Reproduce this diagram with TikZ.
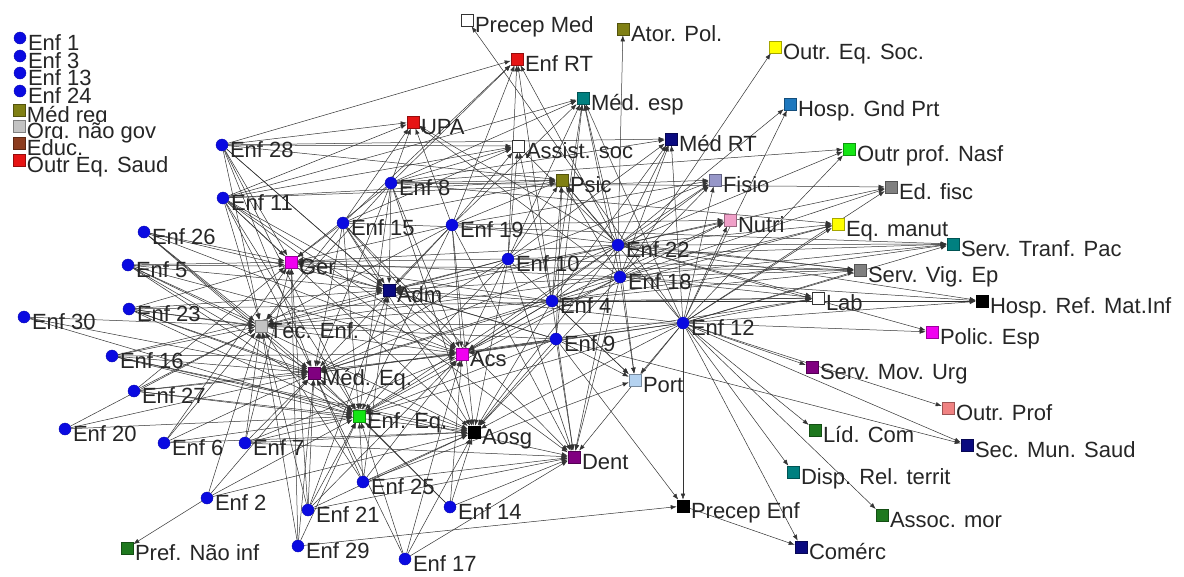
\documentclass[tikz,border=0pt]{standalone}
\usepackage{fontspec}
\setmainfont{Liberation Sans}
\usetikzlibrary{arrows.meta,backgrounds}
\definecolor{enfblue}{RGB}{10,10,225}
\definecolor{olivec}{RGB}{128,128,20}
\definecolor{silverc}{RGB}{195,195,195}
\definecolor{brownc}{RGB}{140,60,30}
\definecolor{redc}{RGB}{230,20,20}
\definecolor{yellowc}{RGB}{255,255,0}
\definecolor{tealc}{RGB}{0,128,128}
\definecolor{steelc}{RGB}{30,120,190}
\definecolor{navyc}{RGB}{10,10,128}
\definecolor{limec}{RGB}{20,230,20}
\definecolor{grayc}{RGB}{128,128,128}
\definecolor{lavc}{RGB}{150,150,200}
\definecolor{pinkc}{RGB}{240,160,200}
\definecolor{magc}{RGB}{240,0,240}
\definecolor{purpc}{RGB}{128,0,128}
\definecolor{lbluec}{RGB}{180,210,240}
\definecolor{salmonc}{RGB}{240,130,130}
\definecolor{dgreenc}{RGB}{30,120,30}
\definecolor{blackc}{RGB}{0,0,0}
\tikzset{
 cn/.style={circle,fill=enfblue,draw=enfblue!80!black,line width=0.4pt,minimum size=12pt,inner sep=0pt},
 sq/.style={rectangle,fill=#1,draw=#1!65!black,line width=0.6pt,minimum size=12pt,inner sep=0pt},
 sqw/.style={rectangle,fill=white,draw=black!80,line width=0.8pt,minimum size=12pt,inner sep=0pt},
 lbl/.style={anchor=base west,inner sep=0pt,outer sep=0pt,text=black!85,text height=11pt,text depth=1pt,font=\fontsize{22}{22}\selectfont},
 leglbl/.style={lbl,fill=white,text height=16.5pt,text depth=0pt},
 edge/.style={draw=black!80,line width=0.5pt,-{Latex[length=6pt,width=4.5pt]}},
}
\newcommand\mklbl[2]{\node[lbl] (#1-l) at ([shift={(8,12)}]#1.center) {#2};}
\newcommand\mkleg[2]{\node[leglbl] (#1-l) at ([shift={(8,12)}]#1.center) {#2};}
\begin{document}
\begin{tikzpicture}[x=1pt,y=-1pt]
\useasboundingbox (0,0) rectangle (1184,576);
% legend (isolated nodes)
\node[cn] (e1) at (20,38) {}; \mkleg{e1}{Enf 1}
\node[cn] (e3) at (20,56) {}; \mkleg{e3}{Enf 3}
\node[cn] (e13) at (20,73) {}; \mkleg{e13}{Enf 13}
\node[cn] (e24) at (20,91) {}; \mkleg{e24}{Enf 24}
\node[sq=olivec] (medreg) at (19,110) {}; \mkleg{medreg}{Méd reg}
\node[sq=silverc] (org) at (19,126) {}; \mkleg{org}{Org. não gov}
\node[sq=brownc] (educ) at (19,143) {}; \mkleg{educ}{Educ.}
\node[sq=redc] (outreq) at (19,160) {}; \mkleg{outreq}{Outr Eq. Saud}
% square nodes
\node[sqw] (pmed) at (467,20) {}; \mklbl{pmed}{Precep Med}
\node[sq=olivec] (ator) at (623,29) {}; \mklbl{ator}{Ator. Pol.}
\node[sq=redc] (enfrt) at (517,59) {}; \mklbl{enfrt}{Enf RT}
\node[sq=yellowc] (oeqsoc) at (775,47) {}; \mklbl{oeqsoc}{Outr. Eq. Soc.}
\node[sq=tealc] (medesp) at (583,98) {}; \mklbl{medesp}{Méd. esp}
\node[sq=steelc] (hgnd) at (790,104) {}; \mklbl{hgnd}{Hosp. Gnd Prt}
\node[sq=redc] (upa) at (413,122) {}; \mklbl{upa}{UPA}
\node[sqw] (assist) at (518,146) {}; \mklbl{assist}{Assist. soc}
\node[sq=navyc] (medrt) at (671,139) {}; \mklbl{medrt}{Méd RT}
\node[sq=limec] (nasf) at (849,149) {}; \mklbl{nasf}{Outr prof. Nasf}
\node[sq=olivec] (psic) at (562,180) {}; \mklbl{psic}{Psic}
\node[sq=lavc] (fisio) at (715,180) {}; \mklbl{fisio}{Fisio}
\node[sq=grayc] (edfisc) at (891,187) {}; \mklbl{edfisc}{Ed. fisc}
\node[sq=pinkc] (nutri) at (730,220) {}; \mklbl{nutri}{Nutri}
\node[sq=yellowc] (eqman) at (838,224) {}; \mklbl{eqman}{Eq. manut}
\node[sq=tealc] (stp) at (953,244) {}; \mklbl{stp}{Serv. Tranf. Pac}
\node[sq=magc] (ger) at (291,262) {}; \mklbl{ger}{Ger}
\node[sq=grayc] (svig) at (860,270) {}; \mklbl{svig}{Serv. Vig. Ep}
\node[sq=navyc] (adm) at (389,290) {}; \mklbl{adm}{Adm}
\node[sqw] (lab) at (818,298) {}; \mklbl{lab}{Lab}
\node[sq=blackc] (hrmi) at (982,301) {}; \mklbl{hrmi}{Hosp. Ref. Mat.Inf}
\node[sq=silverc] (tec) at (261,326) {}; \mklbl{tec}{Téc. Enf.}
\node[sq=magc] (polic) at (932,332) {}; \mklbl{polic}{Polic. Esp}
\node[sq=magc] (acs) at (462,354) {}; \mklbl{acs}{Acs}
\node[sq=lbluec] (port) at (635,380) {}; \mklbl{port}{Port}
\node[sq=purpc] (medeq) at (314,373) {}; \mklbl{medeq}{Méd. Eq.}
\node[sq=purpc] (smu) at (812,367) {}; \mklbl{smu}{Serv. Mov. Urg}
\node[sq=salmonc] (outrp) at (948,408) {}; \mklbl{outrp}{Outr. Prof}
\node[sq=limec] (enfeq) at (359,416) {}; \mklbl{enfeq}{Enf. Eq.}
\node[sq=blackc] (aosg) at (474,432) {}; \mklbl{aosg}{Aosg}
\node[sq=dgreenc] (lid) at (815,430) {}; \mklbl{lid}{Líd. Com}
\node[sq=navyc] (smsaud) at (967,445) {}; \mklbl{smsaud}{Sec. Mun. Saud}
\node[sq=purpc] (dent) at (574,457) {}; \mklbl{dent}{Dent}
\node[sq=tealc] (disp) at (793,472) {}; \mklbl{disp}{Disp. Rel. territ}
\node[sq=blackc] (penf) at (683,506) {}; \mklbl{penf}{Precep Enf}
\node[sq=dgreenc] (assoc) at (882,515) {}; \mklbl{assoc}{Assoc. mor}
\node[sq=dgreenc] (pref) at (127,548) {}; \mklbl{pref}{Pref. Não inf}
\node[sq=navyc] (comerc) at (801,547) {}; \mklbl{comerc}{Comérc}
% circle nodes
\node[cn] (e28) at (222,145) {}; \mklbl{e28}{Enf 28}
\node[cn] (e8) at (391,183) {}; \mklbl{e8}{Enf 8}
\node[cn] (e11) at (223,198) {}; \mklbl{e11}{Enf 11}
\node[cn] (e15) at (343,223) {}; \mklbl{e15}{Enf 15}
\node[cn] (e19) at (452,225) {}; \mklbl{e19}{Enf 19}
\node[cn] (e26) at (144,232) {}; \mklbl{e26}{Enf 26}
\node[cn] (e22) at (618,245) {}; \mklbl{e22}{Enf 22}
\node[cn] (e10) at (508,259) {}; \mklbl{e10}{Enf 10}
\node[cn] (e5) at (128,265) {}; \mklbl{e5}{Enf 5}
\node[cn] (e18) at (620,277) {}; \mklbl{e18}{Enf 18}
\node[cn] (e4) at (552,301) {}; \mklbl{e4}{Enf 4}
\node[cn] (e23) at (129,309) {}; \mklbl{e23}{Enf 23}
\node[cn] (e30) at (24,317) {}; \mklbl{e30}{Enf 30}
\node[cn] (e12) at (683,323) {}; \mklbl{e12}{Enf 12}
\node[cn] (e9) at (556,339) {}; \mklbl{e9}{Enf 9}
\node[cn] (e16) at (112,356) {}; \mklbl{e16}{Enf 16}
\node[cn] (e27) at (134,391) {}; \mklbl{e27}{Enf 27}
\node[cn] (e20) at (65,429) {}; \mklbl{e20}{Enf 20}
\node[cn] (e6) at (164,443) {}; \mklbl{e6}{Enf 6}
\node[cn] (e7) at (245,443) {}; \mklbl{e7}{Enf 7}
\node[cn] (e25) at (363,482) {}; \mklbl{e25}{Enf 25}
\node[cn] (e2) at (207,498) {}; \mklbl{e2}{Enf 2}
\node[cn] (e14) at (450,507) {}; \mklbl{e14}{Enf 14}
\node[cn] (e21) at (308,510) {}; \mklbl{e21}{Enf 21}
\node[cn] (e29) at (298,546) {}; \mklbl{e29}{Enf 29}
\node[cn] (e17) at (405,559) {}; \mklbl{e17}{Enf 17}
% edges
\begin{pgfonlayer}{background}
\fill[white] (0,0) rectangle (1184,576);
\foreach \t in {tec,medeq,enfeq,ger,adm,acs,upa,enfrt,medrt,assist,psic} \draw[edge] (e28) -- (\t);
\foreach \t in {tec,medeq,enfeq,ger,adm,acs,aosg,dent,assist,psic,upa,medesp,fisio} \draw[edge] (e11) -- (\t);
\foreach \t in {tec,medeq,ger,adm,acs,enfeq} \draw[edge] (e26) -- (\t);
\foreach \t in {tec,medeq,ger,adm,acs,enfeq,aosg,svig} \draw[edge] (e5) -- (\t);
\foreach \t in {tec,medeq,ger,adm,acs,enfeq,aosg,lab} \draw[edge] (e23) -- (\t);
\foreach \t in {tec,medeq,enfeq} \draw[edge] (e30) -- (\t);
\foreach \t in {tec,medeq,enfeq,adm,acs,aosg,dent} \draw[edge] (e16) -- (\t);
\foreach \t in {tec,medeq,enfeq,acs,aosg,ger} \draw[edge] (e27) -- (\t);
\foreach \t in {tec,medeq,enfeq} \draw[edge] (e20) -- (\t);
\foreach \t in {tec,medeq,enfeq,aosg,ger} \draw[edge] (e6) -- (\t);
\foreach \t in {tec,medeq,enfeq,aosg,dent,ger,acs} \draw[edge] (e7) -- (\t);
\foreach \t in {tec,medeq,enfeq,pref,aosg} \draw[edge] (e2) -- (\t);
\foreach \t in {tec,medeq,enfeq,aosg,dent,acs,adm,ger} \draw[edge] (e21) -- (\t);
\foreach \t in {tec,medeq,enfeq,penf,ger} \draw[edge] (e29) -- (\t);
\foreach \t in {medeq,enfeq,aosg,dent,acs} \draw[edge] (e17) -- (\t);
\foreach \t in {tec,medeq,enfeq,aosg,dent,acs,adm,port} \draw[edge] (e25) -- (\t);
\foreach \t in {aosg,acs,dent,enfeq,medeq} \draw[edge] (e14) -- (\t);
\foreach \t in {upa,enfrt,assist,psic,medesp,tec,medeq,enfeq,adm,ger,acs,aosg,medrt,nasf,edfisc,eqman} \draw[edge] (e8) -- (\t);
\foreach \t in {tec,medeq,enfeq,adm,ger,acs,aosg,dent,upa,assist,psic,enfrt,stp} \draw[edge] (e15) -- (\t);
\foreach \t in {tec,medeq,enfeq,adm,ger,acs,aosg,dent,upa,enfrt,assist,psic,medesp,fisio,nutri,svig} \draw[edge] (e19) -- (\t);
\foreach \t in {tec,medeq,enfeq,adm,ger,acs,aosg,dent,assist,psic,enfrt,medesp,medrt,fisio,port,stp,svig} \draw[edge] (e10) -- (\t);
\foreach \t in {tec,medeq,enfeq,adm,ger,acs,aosg,dent,assist,psic,enfrt,medesp,medrt,fisio,nutri,eqman,edfisc,nasf,hgnd,stp,svig,lab,hrmi,polic,upa,ator,port} \draw[edge] (e22) -- (\t);
\foreach \t in {tec,medeq,enfeq,adm,ger,acs,aosg,dent,psic,medesp,medrt,fisio,nutri,eqman,edfisc,stp,svig,lab,hrmi,port,oeqsoc,upa} \draw[edge] (e18) -- (\t);
\foreach \t in {tec,medeq,enfeq,adm,ger,acs,aosg,dent,assist,psic,enfrt,medesp,medrt,fisio,nutri,port,svig,lab,stp,eqman,hrmi} \draw[edge] (e4) -- (\t);
\foreach \t in {tec,medeq,enfeq,adm,ger,acs,aosg,dent,port,penf,smsaud,lab,psic,medesp} \draw[edge] (e9) -- (\t);
\foreach \t in {tec,medeq,enfeq,adm,acs,aosg,dent,port,penf,comerc,assoc,disp,lid,smu,outrp,smsaud,polic,hrmi,lab,svig,stp,eqman,nutri,edfisc,nasf,hgnd,fisio,medrt,medesp,psic,pmed} \draw[edge] (e12) -- (\t);
\draw[edge] (penf) -- (comerc);
\end{pgfonlayer}
\end{tikzpicture}
\end{document}
